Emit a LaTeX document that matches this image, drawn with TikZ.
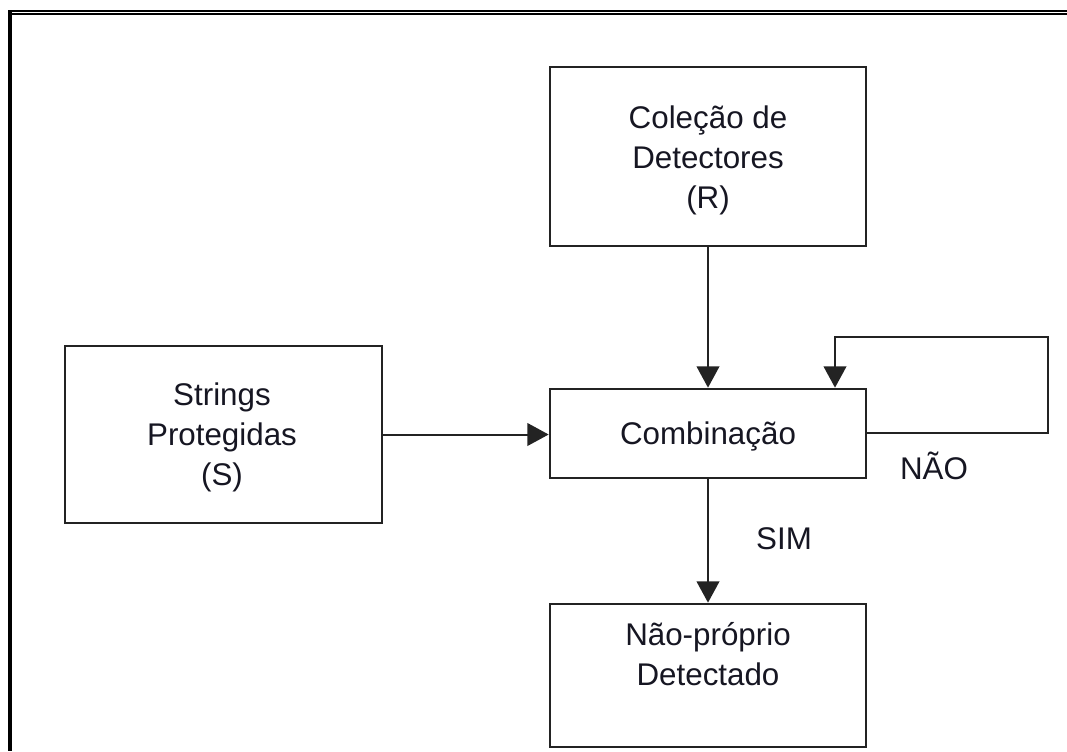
\documentclass[tikz,border=0pt]{standalone}
\usepackage{fontspec}
\setmainfont{Liberation Sans}
\usetikzlibrary{arrows.meta}
\definecolor{ink}{RGB}{22,22,34}
\definecolor{edge}{RGB}{35,35,35}
\begin{document}
\begin{tikzpicture}[x=0.75pt,y=-0.75pt,
  blockbox/.style={draw=edge,line width=2pt,fill=white,inner sep=0pt},
  blocktext/.style={text=ink,align=center,inner sep=0pt,anchor=base,
    font=\fontsize{23.5pt}{30pt}\selectfont},
  flow/.style={draw=edge,line width=1.5pt,
    -{Triangle[width=17pt,length=16pt]}},
  plain/.style={draw=edge,line width=1.5pt}]
\useasboundingbox (0,0) rectangle (1067,751);
% outer frame
\fill[black] (8,10) rectangle (1067,12);
\fill[black] (12,13) rectangle (1067,15);
\fill[black] (8,10) rectangle (12,751);
% blocks
\node[blockbox,minimum width=316*0.75pt,minimum height=179*0.75pt] (col) at (708,156.5) {};
\node[blockbox,minimum width=317*0.75pt,minimum height=177*0.75pt] (str) at (223.5,434.5) {};
\node[blockbox,minimum width=316*0.75pt,minimum height=89*0.75pt] (comb) at (708,433.5) {};
\node[blockbox,minimum width=316*0.75pt,minimum height=143*0.75pt] (np) at (708,675.5) {};
% block labels (anchored on the baseline of the last line)
\node[blocktext] (colT) at (708,208) {Coleção de\\Detectores\\(R)};
\node[blocktext] (strT) at (222,485) {Strings\\Protegidas\\(S)};
\node[blocktext] (combT) at (708,444) {Combinação};
\node[blocktext] (npT) at (708,685) {Não-próprio\\Detectado};
% connectors
\draw[flow] (col.south) -- (comb.north);
\draw[flow] (str.east) -- (str.east -| comb.west);
\draw[flow] (comb.south) -- (np.north);
\coordinate (loopA) at (1048,433);
\coordinate (loopB) at (1048,337);
\coordinate (loopC) at (835,337);
\draw[flow] (comb.east |- loopA) -- (loopA) -- (loopB) -- (loopC) -- (loopC |- comb.north);
% branch labels
\node[blocktext] (sim) at (784,549) {SIM};
\node[blocktext] (nao) at (934,479) {NÃO};
\end{tikzpicture}
\end{document}
